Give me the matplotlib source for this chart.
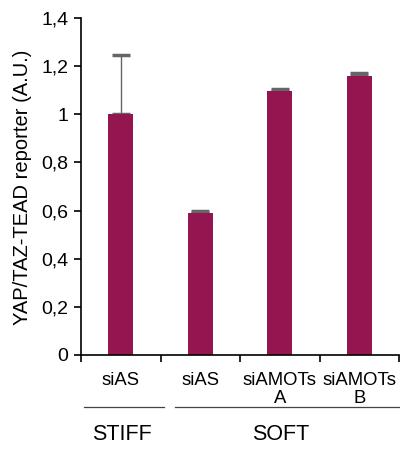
import matplotlib
matplotlib.use("Agg")
import matplotlib.pyplot as plt
import matplotlib.transforms as mtransforms

plt.rcParams['font.family'] = ['Liberation Sans', 'DejaVu Sans']

categories = ["siAS", "siAS", "siAMOTs\nA", "siAMOTs\nB"]
values = [1.00, 0.59, 1.095, 1.158]
errors = [0.246, 0.010, 0.011, 0.012]
groups = ["STIFF", "SOFT"]
yticks = [0, 0.2, 0.4, 0.6, 0.8, 1.0, 1.2, 1.4]
ytick_labels = ["0", "0,2", "0,4", "0,6", "0,8", "1", "1,2", "1,4"]

fig = plt.figure(figsize=(4.0, 4.55), dpi=100)
ax = fig.add_axes([0.2025, 0.2198, 0.795, 0.7406])

x = list(range(len(categories)))
ax.bar(x, values, width=0.31, color="#941651", zorder=2)
ax.errorbar(x, values, yerr=[[0]*len(errors), errors], fmt="none",
            ecolor="#666666", elinewidth=1.0, capsize=6.5, capthick=2.5, zorder=1)

ax.set_xlim(-0.5, 3.5)
ax.set_ylim(0, 1.4)
ax.set_yticks(yticks)
ax.set_yticklabels(ytick_labels, fontsize=14)
ax.set_xticks(x)
ax.set_xticklabels(categories, fontsize=13.3, linespacing=1.1)
ax.tick_params(axis="x", which="major", length=0, pad=12)
ax.set_xticks([-0.5, 0.5, 1.5, 2.5, 3.5], minor=True)
ax.tick_params(axis="x", which="minor", length=5, width=1.2, direction="out")
ax.tick_params(axis="y", length=5, width=1.2, direction="out", pad=4)

for s in ["top", "right"]:
    ax.spines[s].set_visible(False)
ax.spines["left"].set_linewidth(1.2)
ax.spines["bottom"].set_linewidth(1.2)

ax.set_ylabel("YAP/TAZ-TEAD reporter (A.U.)", fontsize=14.5)
ax.yaxis.set_label_coords(-0.155, 0.497)

trans = mtransforms.blended_transform_factory(ax.transData, ax.transAxes)
ax.plot([-0.46, 0.54], [-0.154, -0.154], color="#444444", lw=0.9,
        transform=trans, clip_on=False)
ax.plot([0.68, 3.5], [-0.154, -0.154], color="#444444", lw=0.9,
        transform=trans, clip_on=False)
ax.text(0.01, -0.237, groups[0], transform=trans, ha="center", va="center", fontsize=15.5)
ax.text(2.01, -0.237, groups[1], transform=trans, ha="center", va="center", fontsize=15.5)

fig.savefig("out.png", dpi=100)
